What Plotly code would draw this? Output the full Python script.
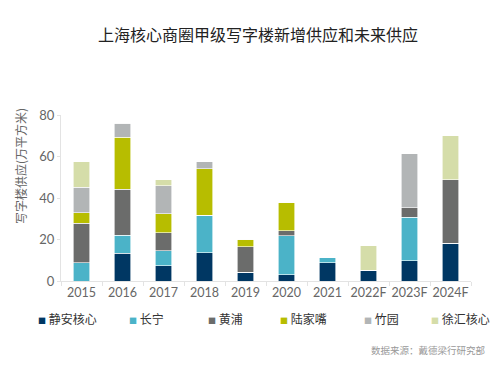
import plotly.graph_objects as go

years = ["2015", "2016", "2017", "2018", "2019", "2020", "2021", "2022F", "2023F", "2024F"]
jingan = [0, 13.3, 7.4, 13.6, 4.3, 2.9, 8.8, 5.1, 9.8, 18.3]
changning = [8.8, 8.7, 7.2, 18.2, 0, 18.9, 2.4, 0, 21.0, 0]
huangpu = [19.0, 22.2, 8.7, 0, 12.1, 2.4, 0, 0, 4.5, 30.4]
lujiazui = [5.0, 25.0, 9.0, 22.2, 3.7, 13.7, 0, 0, 0, 0]
zhuyuan = [12.4, 6.8, 13.5, 3.5, 0, 0, 0, 0, 26.0, 0]
xuhui = [12.2, 0, 2.9, 0, 0, 0, 0, 11.9, 0, 21.2]

names = ["静安核心", "长宁", "黄浦", "陆家嘴", "竹园", "徐汇核心"]
colors = ["#003763", "#4bb3c8", "#6b6c6b", "#b7bd00", "#b2b5b6", "#d5dda9"]
series = [jingan, changning, huangpu, lujiazui, zhuyuan, xuhui]

fig = go.Figure()
for n, c, s in zip(names, colors, series):
    fig.add_trace(go.Bar(x=years, y=s, name=n, marker=dict(color=c, line=dict(width=0.6, color="white")),
                         showlegend=False))

font_family = "Lato, 'Noto Sans CJK SC', sans-serif"
cjk = "'Noto Sans CJK SC', sans-serif"

W, H = 500, 368
L, R, T, B = 61, 29, 115, 87
plot_w = W - L - R
plot_h = H - T - B


def px(x):
    return (x - L) / plot_w


def py(y):
    return (H - B - y) / plot_h


# legend as annotations
leg_x = [36, 127, 206, 278, 362, 429]
for x, n, c in zip(leg_x, names, colors):
    fig.add_annotation(x=px(x), y=py(318), xref="paper", yref="paper",
                       text=f"<span style='color:{c};font-size:8px'>■</span> {n}",
                       showarrow=False, xanchor="left", yanchor="middle",
                       font=dict(size=12, color="#333333", family=cjk))

# y axis title
fig.add_annotation(x=px(20), y=py(166), xref="paper", yref="paper", text="写字楼供应(万平方米)",
                   textangle=-90, showarrow=False, xanchor="center", yanchor="middle",
                   font=dict(size=12, color="#666666", family=cjk))

fig.add_annotation(x=px(487), y=py(350), text="数据来源：戴德梁行研究部",
                   showarrow=False, xref="paper", yref="paper", xanchor="right", yanchor="middle",
                   font=dict(size=9.5, color="#999999", family=cjk))

fig.update_layout(
    barmode="stack",
    bargap=0.6,
    width=W, height=H,
    margin=dict(l=L, r=R, t=T, b=B, autoexpand=False),
    paper_bgcolor="white", plot_bgcolor="white",
    title=dict(text="上海核心商圈甲级写字楼新增供应和未来供应", x=258 / W, xanchor="center", y=1 - 35 / H, yanchor="middle",
               font=dict(size=16, color="#222222", family=cjk)),
    xaxis=dict(type="category", showline=True, linecolor="#e3e3e3", linewidth=1, ticks="outside", tickson="boundaries",
               ticklen=4, tickcolor="#e3e3e3", tickangle=0, automargin=False,
               tickfont=dict(size=12.5, color="#666666", family=font_family)),
    yaxis=dict(range=[0, 80], dtick=20, showgrid=False, zeroline=False, showline=True, linecolor="#e3e3e3",
               ticks="outside", ticklen=3, tickcolor="#e3e3e3", automargin=False,
               tickfont=dict(size=13, color="#666666", family=font_family)),
)

fig.write_html("out.html", config={"displayModeBar": False},
               post_script="document.body.style.margin='0';")
